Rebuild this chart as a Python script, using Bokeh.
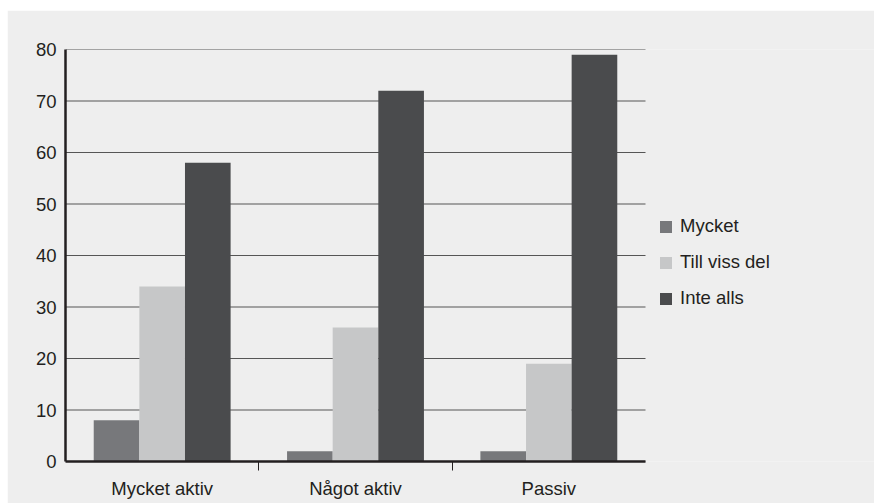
from bokeh.plotting import figure
from bokeh.models import Range1d, FixedTicker, Legend, LegendItem
from bokeh.embed import file_html
from bokeh.resources import INLINE

categories = ["Mycket aktiv", "Något aktiv", "Passiv"]
series_names = ["Mycket", "Till viss del", "Inte alls"]
mycket = [8, 2, 2]
till_viss_del = [34, 26, 19]
inte_alls = [58, 72, 79]
y_ticks = [0, 10, 20, 30, 40, 50, 60, 70, 80]

colors = ["#77787b", "#c6c7c8", "#4a4b4d"]
series = [mycket, till_viss_del, inte_alls]
FONT = "Liberation Sans"
TXT = "#231f20"
FS = "18.5px"
BG = "#eeeeee"

W, H = 867, 493
LEFT = 58
CHART_W = 580          # pixel width used by the three categories
FRAME_W = W - LEFT     # frame extends to the right edge so the legend is not clipped
n = len(categories)
x_end = n * FRAME_W / CHART_W

p = figure(width=W, height=H, output_backend="svg", toolbar_location=None,
           x_range=Range1d(0, x_end), y_range=Range1d(0, 80),
           background_fill_color=BG, border_fill_color=BG,
           min_border_left=LEFT, min_border_right=0, min_border_top=39, min_border_bottom=42)
p.margin = (10, 0, 0, 7)
p.outline_line_color = None

# horizontal grid lines, only across the category area
p.xgrid.visible = False
p.ygrid.visible = False
p.segment(x0=[0] * len(y_ticks), x1=[n] * len(y_ticks), y0=y_ticks, y1=y_ticks,
          line_color="#555555", line_width=1, level="underlay")

bw = 0.236
centers = [i + 0.5 for i in range(n)]
items = []
for k, (name, vals, col) in enumerate(zip(series_names, series, colors)):
    xs = [c + (k - 1) * bw for c in centers]
    r = p.vbar(x=xs, top=vals, bottom=0, width=bw, fill_color=col, line_color=None)
    items.append(LegendItem(label=name, renderers=[r]))

# y axis
ya = p.yaxis[0]
ya.ticker = FixedTicker(ticks=y_ticks)
ya.axis_line_color = TXT
ya.axis_line_width = 2.5
ya.major_tick_out = 0
ya.major_tick_in = 0
ya.minor_tick_out = 0
ya.minor_tick_in = 0
ya.major_label_text_font = FONT
ya.major_label_text_font_size = FS
ya.major_label_text_color = TXT
ya.major_label_standoff = 9

# x axis
xa = p.xaxis[0]
xa.bounds = (0, n)
xa.ticker = FixedTicker(ticks=centers, minor_ticks=list(range(1, n)))
xa.major_label_overrides = {c: lab for c, lab in zip(centers, categories)}
xa.axis_line_color = TXT
xa.axis_line_width = 2.5
xa.major_tick_out = 0
xa.major_tick_in = 0
xa.minor_tick_out = 9
xa.minor_tick_in = 0
xa.minor_tick_line_color = TXT
xa.minor_tick_line_width = 1
xa.major_label_text_font = FONT
xa.major_label_text_font_size = FS
xa.major_label_text_color = TXT
xa.major_label_standoff = 7

legend = Legend(items=items, location=(CHART_W + 13, 152), border_line_color=None,
                background_fill_alpha=0, margin=0, padding=0,
                glyph_width=15, glyph_height=15, label_height=15,
                spacing=14, label_standoff=7,
                label_text_font=FONT, label_text_font_size=FS,
                label_text_color=TXT)
p.add_layout(legend, "center")

open("out.html", "w").write(file_html(p, INLINE))
